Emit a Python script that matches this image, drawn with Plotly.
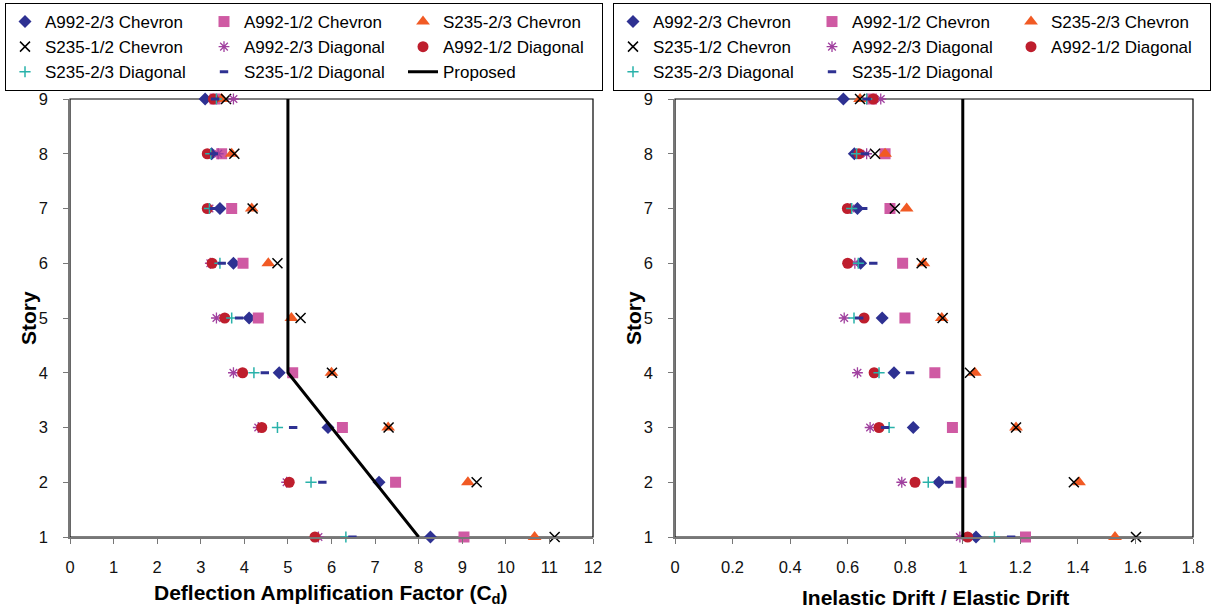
import plotly.graph_objects as go

W, H = 1216, 611

stories = [1, 2, 3, 4, 5, 6, 7, 8, 9]

series_names = [
    "A992-2/3 Chevron", "A992-1/2 Chevron", "S235-2/3 Chevron",
    "S235-1/2 Chevron", "A992-2/3 Diagonal", "A992-1/2 Diagonal",
    "S235-2/3 Diagonal", "S235-1/2 Diagonal",
]

# Deflection amplification factor Cd, stories 1..9
cd_a992_23_chev = [8.27, 7.09, 5.92, 4.80, 4.11, 3.75, 3.44, 3.25, 3.10]
cd_a992_12_chev = [9.04, 7.47, 6.25, 5.11, 4.32, 3.97, 3.71, 3.48, 3.33]
cd_s235_23_chev = [10.66, 9.13, 7.30, 6.00, 5.08, 4.55, 4.17, 3.71, 3.48]
cd_s235_12_chev = [11.12, 9.33, 7.31, 6.01, 5.29, 4.76, 4.19, 3.77, 3.58]
cd_a992_23_diag = [5.70, 4.97, 4.32, 3.75, 3.36, 3.22, 3.20, 3.40, 3.75]
cd_a992_12_diag = [5.62, 5.03, 4.40, 3.96, 3.55, 3.26, 3.15, 3.15, 3.29]
cd_s235_23_diag = [6.33, 5.53, 4.76, 4.22, 3.71, 3.44, 3.20, 3.23, 3.36]
cd_s235_12_diag = [6.48, 5.79, 5.12, 4.47, 3.88, 3.48, 3.30, 3.30, 3.33]

# Proposed Cd profile
proposed_cd = [8, 5, 5]
proposed_story = [1, 4, 9]

# Inelastic drift / elastic drift, stories 1..9
r_a992_23_chev = [1.046, 0.917, 0.828, 0.761, 0.720, 0.645, 0.634, 0.623, 0.585]
r_a992_12_chev = [1.218, 0.994, 0.964, 0.903, 0.799, 0.791, 0.747, 0.730, 0.683]
r_s235_23_chev = [1.529, 1.404, 1.185, 1.042, 0.927, 0.863, 0.805, 0.730, 0.643]
r_s235_12_chev = [1.602, 1.386, 1.185, 1.025, 0.930, 0.857, 0.764, 0.695, 0.643]
r_a992_23_diag = [0.990, 0.788, 0.678, 0.634, 0.588, 0.625, 0.610, 0.666, 0.715]
r_a992_12_diag = [1.017, 0.834, 0.709, 0.692, 0.657, 0.600, 0.599, 0.639, 0.689]
r_s235_23_diag = [1.110, 0.880, 0.744, 0.709, 0.622, 0.637, 0.614, 0.631, 0.666]
r_s235_12_diag = [1.168, 0.952, 0.730, 0.817, 0.640, 0.689, 0.654, 0.660, 0.666]

ratio_ref_x = [1, 1]
ratio_ref_story = [1, 9]

x1_ticks = list(range(0, 13))
x2_ticks = [0, 0.2, 0.4, 0.6, 0.8, 1.0, 1.2, 1.4, 1.6, 1.8]
x2_ticklabels = ["0", "0.2", "0.4", "0.6", "0.8", "1", "1.2", "1.4", "1.6", "1.8"]
y_ticks = stories

cd_data = [cd_a992_23_chev, cd_a992_12_chev, cd_s235_23_chev, cd_s235_12_chev,
           cd_a992_23_diag, cd_a992_12_diag, cd_s235_23_diag, cd_s235_12_diag]
r_data = [r_a992_23_chev, r_a992_12_chev, r_s235_23_chev, r_s235_12_chev,
          r_a992_23_diag, r_a992_12_diag, r_s235_23_diag, r_s235_12_diag]

NAVY = "#2E3192"
styles = [
    dict(symbol="diamond", size=10, color=NAVY, line=dict(width=0)),
    dict(symbol="square", size=11, color="#CF5AA3", line=dict(width=0)),
    dict(symbol="triangle-up", size=12, color="#F15A24", line=dict(width=0)),
    dict(symbol="x-thin-open", size=10, color="#000000", line=dict(width=1.5, color="#000000")),
    dict(symbol="asterisk-open", size=9, color="#A0409F", line=dict(width=1.3, color="#A0409F")),
    dict(symbol="circle", size=11, color="#BE1E2D", line=dict(width=0)),
    dict(symbol="cross-thin-open", size=8, color="#29B2AA", line=dict(width=1.5, color="#29B2AA")),
    dict(symbol="line-ew-open", size=6, color=NAVY, line=dict(width=3, color=NAVY)),
]

fig = go.Figure()

for i, (name, vals) in enumerate(zip(series_names, cd_data)):
    fig.add_trace(go.Scatter(
        x=vals, y=stories, mode="markers", name=name, marker=styles[i],
        xaxis="x", yaxis="y", legend="legend", legendgroup=f"L{i % 3}",
        cliponaxis=False,
    ))
fig.add_trace(go.Scatter(
    x=proposed_cd, y=proposed_story, mode="lines", name="Proposed",
    line=dict(color="black", width=3), xaxis="x", yaxis="y",
    legend="legend", legendgroup="L2", cliponaxis=False,
))

for i, (name, vals) in enumerate(zip(series_names, r_data)):
    fig.add_trace(go.Scatter(
        x=vals, y=stories, mode="markers", name=name, marker=styles[i],
        xaxis="x2", yaxis="y2", legend="legend2", legendgroup=f"R{i % 3}",
        cliponaxis=False,
    ))
fig.add_trace(go.Scatter(
    x=ratio_ref_x, y=ratio_ref_story, mode="lines", name="Elastic",
    line=dict(color="black", width=3), xaxis="x2", yaxis="y2",
    showlegend=False, cliponaxis=False,
))

FONT = "Liberation Sans, Arial, sans-serif"
tickfont = dict(family=FONT, size=16.5, color="#111111")
AXC = "#777777"

yd = [(H - 537) / H, (H - 99) / H]

common_x = dict(showgrid=False, zeroline=False, showline=True, linecolor=AXC,
                linewidth=1.5, ticks="outside", ticklen=5, tickcolor=AXC,
                tickwidth=1.3, tickfont=tickfont, automargin=False,
                ticklabelstandoff=9)
common_y = dict(showgrid=False, zeroline=False, showline=True, linecolor=AXC,
                linewidth=1.5, ticks="outside", ticklen=5, tickcolor=AXC,
                tickwidth=1.3, tickfont=tickfont, automargin=False, range=[1, 9],
                tickvals=y_ticks, ticklabelstandoff=12)

legend_common = dict(
    orientation="h", traceorder="grouped", entrywidth=154, entrywidthmode="pixels",
    bordercolor="black", borderwidth=1, bgcolor="white",
    font=dict(family=FONT, size=17, color="black"), tracegroupgap=0,
    xanchor="left", yanchor="top",
)

TITLE_FONT = dict(family=FONT, size=21, color="black")

fig.update_layout(
    width=W, height=H, template="none",
    paper_bgcolor="white", plot_bgcolor="white",
    margin=dict(l=0, r=0, t=0, b=0),
    xaxis=dict(domain=[70 / W, 593 / W], range=[0, 12], tickvals=x1_ticks, anchor="y", **common_x),
    yaxis=dict(domain=yd, anchor="x", **common_y),
    xaxis2=dict(domain=[675 / W, 1193 / W], range=[0, 1.8], tickvals=x2_ticks,
                ticktext=x2_ticklabels, anchor="y2", **common_x),
    yaxis2=dict(domain=yd, anchor="x2", **common_y),
    legend=dict(x=5 / W, y=1 - 3 / H, **legend_common),
    legend2=dict(x=613 / W, y=1 - 3 / H, **legend_common),
    showlegend=True,
    shapes=[
        dict(type="rect", xref="x domain", yref="y domain", x0=0, x1=1, y0=0, y1=1,
             line=dict(color="black", width=1.2), layer="below"),
        dict(type="rect", xref="x2 domain", yref="y2 domain", x0=0, x1=1, y0=0, y1=1,
             line=dict(color="black", width=1.2), layer="below"),
    ],
    annotations=[
        dict(text="<b>Story</b>", x=28 / W, y=1 - 318 / H, xref="paper", yref="paper",
             textangle=-90, showarrow=False, font=TITLE_FONT,
             xanchor="center", yanchor="middle"),
        dict(text="<b>Story</b>", x=633 / W, y=1 - 318 / H, xref="paper", yref="paper",
             textangle=-90, showarrow=False, font=TITLE_FONT,
             xanchor="center", yanchor="middle"),
        dict(text="<b>Deflection Amplification Factor (C<sub>d</sub>)</b>", x=331 / W,
             y=1 - 594 / H, xref="paper", yref="paper", showarrow=False,
             font=TITLE_FONT, xanchor="center", yanchor="middle"),
        dict(text="<b>Inelastic Drift / Elastic Drift</b>", x=935 / W, y=1 - 597 / H,
             xref="paper", yref="paper", showarrow=False,
             font=TITLE_FONT, xanchor="center", yanchor="middle"),
    ],
)

fig.write_html("out.html")
